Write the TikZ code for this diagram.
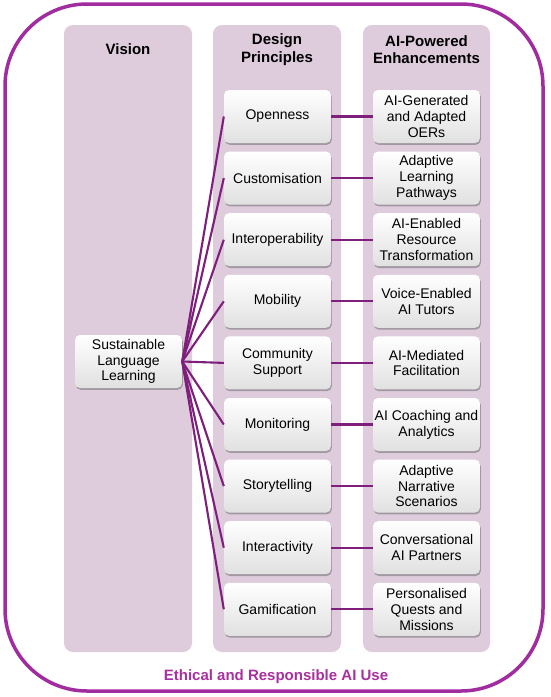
\documentclass[tikz,border=0pt]{standalone}
\usepackage{fontspec}
\setmainfont{Liberation Sans}
\usetikzlibrary{shadows}
\definecolor{panel}{HTML}{DECCDD}
\definecolor{frame}{HTML}{A12C9F}
\definecolor{connc}{HTML}{7D1F7B}
\definecolor{ethic}{HTML}{A8309F}
\begin{document}
\begin{tikzpicture}[x=1pt,y=-1pt,
 panelbox/.style={fill=panel, draw=none, rounded corners=9pt},
 card/.style={draw=none, rounded corners=5pt, top color=white, bottom color=black!12,
   minimum width=107pt, minimum height=53pt, align=center, inner sep=1pt,
   font=\fontsize{14}{15.8}\selectfont,
   drop shadow={shadow xshift=0.8pt, shadow yshift=-1.8pt, opacity=0.5, fill=black!60}},
 head/.style={font=\fontsize{15}{17.5}\selectfont\bfseries, align=center},
 link/.style={draw=connc, line width=2.1pt}
]
\useasboundingbox (0,0) rectangle (550,697);
\fill[white] (0,0) rectangle (550,697);
% outer frame
\draw[frame, line width=3.5pt, rounded corners=82pt] (5,4) rectangle (543,691);
% panels
\path[panelbox] (64,25) rectangle (192,652);
\path[panelbox] (213,25) rectangle (341,652);
\path[panelbox] (363,25) rectangle (490,652);
% headers
\node[head] (hv) at (128,49) {Vision};
\node[head] (hd) at (277,49.5) {Design\\Principles};
\node[head] (ha) at (426.5,49.5) {AI-Powered\\Enhancements};
% vision node
\node[card] (v) at (128.5,361.5) {Sustainable\\Language\\Learning};
% design and AI nodes
\foreach \i/\d/\a in {
 0/Openness/{AI-Generated\\and Adapted\\OERs},
 1/Customisation/{Adaptive\\Learning\\Pathways},
 2/Interoperability/{AI-Enabled\\Resource\\Transformation},
 3/Mobility/{Voice-Enabled\\AI Tutors},
 4/{Community\\Support}/{AI-Mediated\\Facilitation},
 5/Monitoring/{AI Coaching and\\Analytics},
 6/Storytelling/{Adaptive\\Narrative\\Scenarios},
 7/Interactivity/{Conversational\\AI Partners},
 8/Gamification/{Personalised\\Quests and\\Missions}}{
  \node[card] (d\i) at (277.5,116.5+61.6*\i) {\d};
  \node[card] (a\i) at (426.5,116.5+61.6*\i) {\a};
}
\foreach \i in {0,...,8}{
  \draw[link] (v.east) -- (d\i.west);
  \draw[link] (d\i.east) -- (a\i.west);
}
% bottom label
\node[font=\fontsize{15}{17}\selectfont\bfseries, text=ethic] (eth) at (276,677) {Ethical and Responsible AI Use};
\end{tikzpicture}
\end{document}
